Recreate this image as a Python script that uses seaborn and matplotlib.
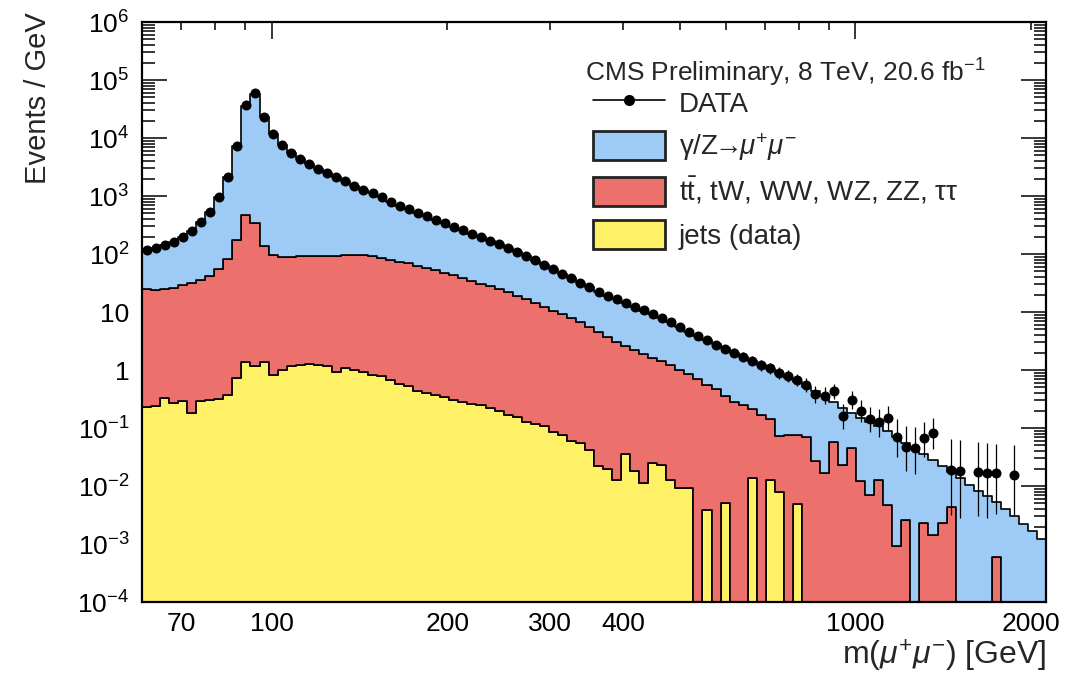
import numpy as np
import pandas as pd
import matplotlib
matplotlib.use("Agg")
import matplotlib.pyplot as plt
import seaborn as sns
from matplotlib.lines import Line2D
from matplotlib.patches import Patch
from matplotlib.ticker import FixedLocator, FixedFormatter, LogLocator, NullFormatter

# ---------------- binning (100 log-spaced bins over the axis range) ----------------
mass_min, mass_max, n_bins = 60.0, 2120.0, 100

# ---------------- data (Events / GeV), NaN = empty bin ----------------
nan = np.nan
data_vals = [
    115, 129, 145, 162, 200, 251, 363, 537, 955, 2140,
    7410, 37200, 58900, 23400, 11700, 7590, 5620, 4270, 3550, 2950,
    2510, 2140, 1780, 1510, 1290, 1120, 955, 794, 676, 589,
    513, 447, 389, 339, 288, 257, 224, 195, 170, 148,
    126, 107, 91.2, 77.6, 64.6, 55.0, 45.7, 38.0, 31.6, 26.9,
    21.9, 19.1, 16.6, 14.1, 12.3, 10.7, 9.33, 7.94, 6.61, 5.50,
    4.57, 3.89, 3.31, 2.75, 2.34, 2.00, 1.70, 1.45, 1.20, 1.07,
    0.891, 0.776, 0.676, 0.550, 0.380, 0.363, 0.427, 0.158, 0.302, 0.200,
    0.141, 0.126, 0.151, 0.0708, 0.0479, 0.0447, 0.0661, 0.0832, nan, 0.0191,
    0.0182, nan, 0.0174, 0.0166, 0.0166, nan, 0.0155, nan, nan, nan,
]

# ---------------- stacked MC levels (Events / GeV) ----------------
# top of the full stack (gamma/Z -> mu mu on top)
dy_top = [
    112, 127, 143, 162, 200, 250, 360, 540, 950, 2100,
    7300, 36000, 57000, 23000, 11500, 7600, 5600, 4300, 3550, 2950,
    2500, 2130, 1790, 1510, 1290, 1110, 950, 800, 680, 590,
    512, 447, 389, 338, 290, 256, 224, 195, 169, 147,
    125, 107, 91, 77, 64.5, 55, 46, 38, 31.8, 26.5,
    22.3, 19.0, 16.5, 14.2, 12.3, 10.6, 9.2, 7.9, 6.7, 5.6,
    4.6, 3.9, 3.3, 2.78, 2.35, 2.0, 1.70, 1.43, 1.21, 1.03,
    0.851, 0.724, 0.617, 0.513, 0.427, 0.355, 0.282, 0.219, 0.178, 0.148,
    0.126, 0.110, 0.0891, 0.0708, 0.0550, 0.0427, 0.0355, 0.0282, 0.0224, 0.0174,
    0.0135, 0.0105, 0.00832, 0.00661, 0.00525, 0.00398, 0.00302, 0.00224, 0.00166, 0.00120,
]
# top of (ttbar, tW, WW, WZ, ZZ, tautau) + jets
ewk_top = [
    24.5, 24.0, 24.5, 25.7, 28.8, 31.6, 35.5, 41.7, 55.0, 83.2,
    174, 468, 339, 135, 95.5, 89.1, 89.1, 91.2, 91.2, 93.3,
    93.3, 93.3, 95.5, 95.5, 95.5, 91.2, 85.1, 79.4, 74.1, 69.2,
    63.1, 57.5, 52.5, 46.8, 42.7, 38.0, 34.7, 30.9, 28.2, 25.1,
    21.9, 19.1, 16.6, 14.5, 12.3, 10.5, 9.12, 7.76, 6.61, 5.50,
    4.47, 3.72, 3.09, 2.57, 2.19, 1.91, 1.62, 1.41, 1.20, 1.02,
    0.851, 0.708, 0.562, 0.468, 0.355, 0.282, 0.251, 0.209, 0.166, 0.141,
    0.0741, 0.0759, 0.0759, 0.0692, 0.0275, 0.0170, 0.0575, 0.0234, 0.0447, 0.0120,
    0.00708, 0.0126, 0.00479, 0.000933, 0.00257, 0, 0.00234, 0.00145, 0.00229, 0.00437,
    0, 0, 0, 0, 0.000603, 0, 0, 0, 0, 0,
]
# jets (data-driven), bottom of stack
jets = [
    0.229, 0.240, 0.331, 0.275, 0.288, 0.178, 0.295, 0.309, 0.316, 0.372,
    0.724, 1.38, 1.15, 1.35, 0.813, 1.00, 1.15, 1.23, 1.26, 1.23,
    1.15, 0.912, 1.10, 1.02, 0.933, 0.832, 0.794, 0.661, 0.575, 0.537,
    0.437, 0.398, 0.372, 0.339, 0.302, 0.282, 0.263, 0.251, 0.219, 0.200,
    0.166, 0.155, 0.126, 0.117, 0.107, 0.0851, 0.0759, 0.0603, 0.0550, 0.0417,
    0.0219, 0.0200, 0.0126, 0.0363, 0.0178, 0.0112, 0.0245, 0.0234, 0.0126, 0.00912,
    0.00912, 0, 0.00389, 0, 0.00501, 0, 0, 0.0135, 0, 0.0126,
    0.00794, 0, 0.00490, 0, 0, 0, 0, 0, 0, 0,
    0, 0, 0, 0, 0, 0, 0, 0, 0, 0,
    0, 0, 0, 0, 0, 0, 0, 0, 0, 0,
]

x_major = [100, 1000]
x_minor = [60, 70, 80, 90, 200, 300, 400, 500, 600, 700, 800, 900, 2000]
x_minor_labels = ["", "70", "", "", "200", "300", "400", "", "", "", "", "", "2000"]
y_exponents = list(range(-4, 7))

lab_dy = r"γ/Z$\!\!\rightarrow\!\!\mu^{+}\mu^{-}$"
lab_ewk = r"$\mathrm{t\bar{t}}$, tW, WW, WZ, ZZ, ττ"
lab_jets = "jets (data)"
colors = {lab_dy: "#9ECBF5", lab_ewk: "#EC706B", lab_jets: "#FFF166"}

# ---------------- style ----------------
sns.set_theme(style="ticks")
plt.rcParams["font.family"] = ["Liberation Sans", "DejaVu Sans"]
plt.rcParams["mathtext.fontset"] = "custom"
plt.rcParams["mathtext.rm"] = "Liberation Sans"
plt.rcParams["mathtext.it"] = "Liberation Sans:italic"
plt.rcParams["mathtext.bf"] = "Liberation Sans:bold"
plt.rcParams["axes.edgecolor"] = "black"
plt.rcParams["axes.linewidth"] = 1.6

# ---------------- derived per-process values ----------------
edges = np.logspace(np.log10(mass_min), np.log10(mass_max), n_bins + 1)
centers = np.sqrt(edges[:-1] * edges[1:])
widths = np.diff(edges)
jets_w = np.asarray(jets, float)
ewk_w = np.clip(np.asarray(ewk_top, float) - jets_w, 0, None)
dy_w = np.clip(np.asarray(dy_top, float) - np.asarray(ewk_top, float), 0, None)

df = pd.DataFrame({
    "mass": np.tile(centers, 3),
    "w": np.concatenate([dy_w, ewk_w, jets_w]),
    "process": np.repeat([lab_dy, lab_ewk, lab_jets], n_bins),
})

fig = plt.figure(figsize=(10.9, 6.79), dpi=100)
ax = fig.add_axes([142 / 1090, 1 - 602 / 679, 904 / 1090, 580 / 679])

sns.histplot(
    data=df, x="mass", weights="w", hue="process",
    hue_order=[lab_dy, lab_ewk, lab_jets], palette=colors,
    bins=[float(v) for v in np.log10(edges)], log_scale=True, multiple="stack",
    element="step", fill=True, alpha=1.0, edgecolor="black",
    linewidth=1.2, legend=False, ax=ax,
)
ax.set_yscale("log", nonpositive="clip")

# ---------------- data points ----------------
vals = np.asarray(data_vals, float)
mask = ~np.isnan(vals)
counts = np.maximum(np.round(vals[mask] * widths[mask]), 1)
low = counts * (1 - 1 / (9 * counts) - 1 / (3 * np.sqrt(counts))) ** 3
high = counts + np.sqrt(counts + 0.75) + 1
err_lo = (counts - low) / widths[mask]
err_hi = (high - counts) / widths[mask]
ax.errorbar(centers[mask], vals[mask], yerr=[err_lo, err_hi], fmt="none",
            ecolor="black", elinewidth=0.9, capsize=0, zorder=5)
sns.scatterplot(x=centers[mask], y=vals[mask], color="black", s=52,
                linewidth=0, zorder=6, ax=ax, legend=False)

# ---------------- axes ----------------
ax.set_xlim(mass_min, mass_max)
ax.set_ylim(1e-4, 1e6)
ax.xaxis.set_major_locator(FixedLocator(x_major))
ax.xaxis.set_major_formatter(FixedFormatter([str(v) for v in x_major]))
ax.xaxis.set_minor_locator(FixedLocator(x_minor))
ax.xaxis.set_minor_formatter(FixedFormatter(x_minor_labels))
ylabels = []
for k in y_exponents:
    if k == 0:
        ylabels.append("1")
    elif k == 1:
        ylabels.append("10")
    else:
        ylabels.append(r"$10^{%d}$" % k)
ax.yaxis.set_major_locator(FixedLocator([10.0 ** k for k in y_exponents]))
ax.yaxis.set_major_formatter(FixedFormatter(ylabels))
ax.yaxis.set_minor_locator(LogLocator(base=10, subs=np.arange(2, 10), numticks=30))
ax.yaxis.set_minor_formatter(NullFormatter())

ax.tick_params(which="both", direction="in", top=True, right=True,
               color="black", labelcolor="black", labelsize=19, width=1.1)
ax.tick_params(axis="x", which="major", length=12, pad=7)
ax.tick_params(axis="x", which="minor", length=6, pad=7)
ax.tick_params(axis="y", which="major", length=18, pad=9)
ax.tick_params(axis="y", which="minor", length=9, pad=9)
for s in ax.spines.values():
    s.set_visible(True)
    s.set_linewidth(1.6)
    s.set_color("black")

ax.set_xlabel(r"m($\mu^{+}\mu^{-}$) [GeV]", fontsize=23, loc="right")
ax.xaxis.set_label_coords(1.0, -0.062)
ax.set_ylabel("Events / GeV", fontsize=21, loc="top")
ax.yaxis.set_label_coords(-0.10, 1.016)

# ---------------- legend ----------------
fig.text(585 / 1090, 1 - 73 / 679, r"CMS Preliminary, 8 TeV, 20.6 fb$^{-1}$",
         ha="left", va="center", fontsize=19)
handles = [
    Line2D([0], [0], color="black", marker="o", ms=7, lw=1.2),
    Patch(facecolor=colors[lab_dy], edgecolor="#222222", linewidth=2),
    Patch(facecolor=colors[lab_ewk], edgecolor="#222222", linewidth=2),
    Patch(facecolor=colors[lab_jets], edgecolor="#222222", linewidth=2),
]
ax.legend(handles, ["DATA", lab_dy, lab_ewk, lab_jets],
          loc="upper left", bbox_to_anchor=(593 / 1090, 1 - 88 / 679),
          bbox_transform=fig.transFigure, frameon=False, fontsize=20,
          handlelength=2.6, handleheight=1.25, handletextpad=0.5,
          labelspacing=0.46, borderpad=0, borderaxespad=0)

fig.savefig("out.png", dpi=100)
